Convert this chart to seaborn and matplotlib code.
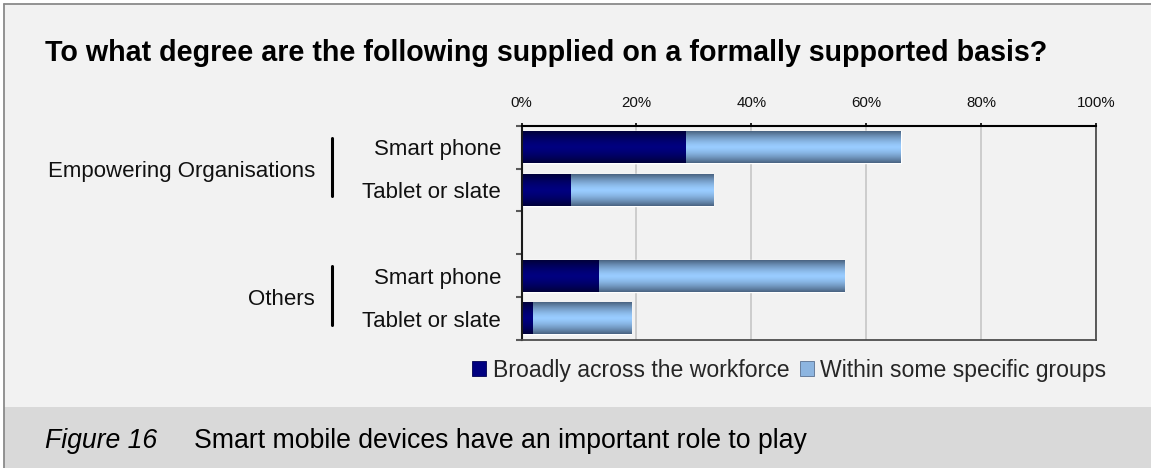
import numpy as np
import pandas as pd
import matplotlib
matplotlib.use("Agg")
import matplotlib.pyplot as plt
import matplotlib.transforms as mtransforms
import seaborn as sns
from matplotlib.patches import Rectangle, Patch
from matplotlib.lines import Line2D
from matplotlib.colors import to_rgb
from matplotlib.ticker import FixedLocator, PercentFormatter

# ---- data -----------------------------------------------------------------
groups = ["Empowering Organisations", "Empowering Organisations", "Others", "Others"]
devices = ["Smart phone", "Tablet or slate", "Smart phone", "Tablet or slate"]
broadly = [28.4, 8.4, 13.3, 1.8]      # % supplied broadly across the workforce
within = [37.6, 24.9, 42.8, 17.2]     # % supplied within some specific groups
series_names = ["Broadly across the workforce", "Within some specific groups"]
xticks = [0, 20, 40, 60, 80, 100]

title = "To what degree are the following supplied on a formally supported basis?"
fig_label = "Figure 16"
caption = "Smart mobile devices have an important role to play"

# ---- table for seaborn ----------------------------------------------------
df = pd.DataFrame({"group": groups, "device": devices,
                   "broadly": broadly, "within": within})
df["total"] = df["broadly"] + df["within"]
df["slot"] = df["group"] + " | " + df["device"]

# one empty slot between consecutive groups
order = []
group_slots = {}
for g in dict.fromkeys(groups):
    if order:
        order.append(" ")
    slots = list(df.loc[df["group"] == g, "slot"])
    group_slots[g] = [len(order) + i for i in range(len(slots))]
    order.extend(slots)

# ---- style ----------------------------------------------------------------
sns.set_theme(style="white")
plt.rcParams["font.family"] = ["Liberation Sans", "DejaVu Sans"]

W, H = 1151, 468
fig = plt.figure(figsize=(W / 100, H / 100), dpi=100)
fig.patch.set_facecolor("white")

# panel background, caption band and frame
fig.patches.append(Rectangle((4 / W, 0), 1, (H - 4) / H, transform=fig.transFigure,
                             facecolor="#f2f2f2", edgecolor="none", zorder=-10))
fig.patches.append(Rectangle((4 / W, 0), 1, (H - 406.5) / H, transform=fig.transFigure,
                             facecolor="#d9d9d9", edgecolor="none", zorder=-9))
fig.add_artist(Line2D([4 / W, 1], [(H - 4) / H] * 2, transform=fig.transFigure,
                      color="#8a8a8a", lw=1.3))
fig.add_artist(Line2D([4 / W] * 2, [0, (H - 4) / H], transform=fig.transFigure,
                      color="#8a8a8a", lw=1.3))

ax = fig.add_axes([521.6 / W, 1 - 340 / H, (1095.8 - 521.6) / W, (340 - 125.7) / H])
ax.set_facecolor("#f2f2f2")

light_edge, light_mid = np.array(to_rgb("#4a6381")), np.array(to_rgb("#99ccff"))
dark_edge, dark_mid = np.array(to_rgb("#00003a")), np.array(to_rgb("#000080"))

# stacked bars: the full total first, the "broadly" part drawn over it
sns.barplot(data=df, y="slot", x="total", order=order, orient="h", color="#99ccff",
            saturation=1, width=0.74, errorbar=None, ax=ax)
n_light = len(ax.patches)
sns.barplot(data=df, y="slot", x="broadly", order=order, orient="h", color="#000080",
            saturation=1, width=0.74, errorbar=None, ax=ax)


def shade(patch, edge, mid):
    """Fill a bar with a vertical edge-to-centre gradient."""
    x0, y0 = patch.get_x(), patch.get_y()
    w, h = patch.get_width(), patch.get_height()
    if not (np.isfinite(w) and np.isfinite(h)) or w <= 0:
        return
    t = np.linspace(0, 1, 96)
    d = np.abs(2 * t - 1) ** 1.5
    cols = mid[None, :] * (1 - d)[:, None] + edge[None, :] * d[:, None]
    ax.imshow(cols[:, None, :], extent=[x0, x0 + w, y0 + h, y0], aspect="auto",
              interpolation="bilinear", zorder=patch.get_zorder() + 0.1)


for i, p in enumerate(list(ax.patches)):
    if i < n_light:
        shade(p, light_edge, light_mid)
    else:
        shade(p, dark_edge, dark_mid)

ax.set_xlim(0, 100)
ax.set_ylim(len(order) - 0.5, -0.5)
ax.set_xlabel("")
ax.set_ylabel("")

# x axis on top
ax.xaxis.tick_top()
ax.set_xticks(xticks)
ax.xaxis.set_major_formatter(PercentFormatter(xmax=100, decimals=0))
ax.tick_params(axis="x", which="major", top=True, bottom=False, length=2.5, width=1.2,
               color="black", labelsize=10.8, pad=8.5, labelcolor="#111111")
ax.xaxis.grid(True, color="#c6c6c6", lw=1.2)
ax.yaxis.grid(False)
ax.set_axisbelow(True)

# device labels, with tick marks between the slots
label_pos = [order.index(s) for s in df["slot"]]
ax.set_yticks(label_pos)
ax.set_yticklabels(devices)
ax.tick_params(axis="y", which="major", length=0, pad=14.8, labelsize=16,
               labelcolor="#111111")
ax.yaxis.set_minor_locator(FixedLocator(np.arange(-0.5, len(order), 1.0)))
ax.tick_params(axis="y", which="minor", left=True, length=4, width=1.5, color="#5a5a5a")

for side, col, lw in [("top", "black", 1.5), ("left", "#1a1a1a", 1.5),
                      ("right", "#4d4d4d", 1.3), ("bottom", "#4d4d4d", 1.3)]:
    ax.spines[side].set_visible(True)
    ax.spines[side].set_color(col)
    ax.spines[side].set_linewidth(lw)

# group labels and separators
trans = mtransforms.blended_transform_factory(fig.transFigure, ax.transData)
for g, pos in group_slots.items():
    centre = (pos[0] + pos[-1]) / 2
    ax.text(315 / W, centre, g, transform=trans, ha="right", va="center_baseline",
            fontsize=16, color="#111111")
    fig.add_artist(Line2D([331.7 / W] * 2, [pos[0] - 0.22, pos[-1] + 0.14],
                          transform=trans, color="black", lw=2.2))

# legend
handles = [Patch(facecolor="#000080", edgecolor="#000050", lw=0.6),
           Patch(facecolor="#8db5e0", edgecolor="#5a7090", lw=0.6)]
fig.legend(handles, series_names, loc="center left",
           bbox_to_anchor=(472 / W, 1 - 370 / H), ncol=2, frameon=False,
           fontsize=16.6, handlelength=0.6, handleheight=0.6, handletextpad=0.3,
           columnspacing=0.45, borderpad=0, borderaxespad=0)

# title and caption
fig.text(45 / W, 1 - 61 / H, title, fontsize=20.6, fontweight="bold",
         ha="left", va="baseline", color="black")
fig.text(45 / W, 1 - 447.7 / H, fig_label, fontsize=19.2, style="italic",
         ha="left", va="baseline", color="black")
fig.text(194 / W, 1 - 447.7 / H, caption, fontsize=19.2,
         ha="left", va="baseline", color="black")

fig.savefig("out.png", dpi=100, facecolor=fig.get_facecolor())
